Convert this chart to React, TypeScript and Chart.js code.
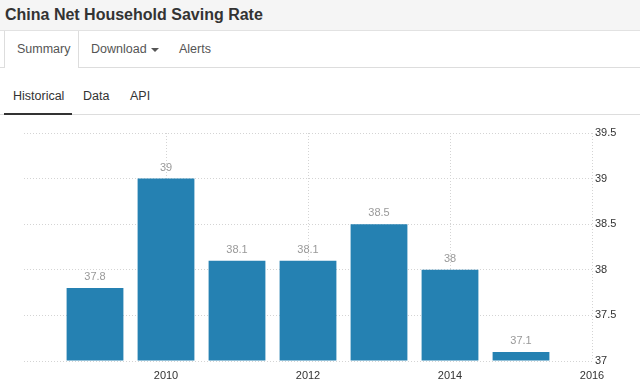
import React, { useEffect, useRef } from "react";
import { Chart, registerables } from "chart.js";

Chart.register(...registerables);

const years = [2009, 2010, 2011, 2012, 2013, 2014, 2015];
const savingRate = [37.8, 39, 38.1, 38.1, 38.5, 38, 37.1];
const yTicks = [37, 37.5, 38, 38.5, 39, 39.5];
const xTicks = [2010, 2012, 2014, 2016];
const xRange = [2008, 2016];

const FONT = "'Liberation Sans', Arial, sans-serif";

const valueLabels = {
  id: "valueLabels",
  afterDatasetsDraw(chart: any) {
    const ctx = chart.ctx;
    const meta = chart.getDatasetMeta(0);
    ctx.save();
    ctx.font = `11px ${FONT}`;
    ctx.fillStyle = "#999999";
    ctx.textAlign = "center";
    ctx.textBaseline = "middle";
    meta.data.forEach((bar: any, i: number) => {
      ctx.fillText(String(savingRate[i]), bar.x, bar.y - 11);
    });
    ctx.restore();
  },
};

function ChartCanvas() {
  const ref = useRef<HTMLCanvasElement | null>(null);
  useEffect(() => {
    if (!ref.current) return;
    const chart = new Chart(ref.current, {
      type: "bar",
      data: {
        datasets: [
          {
            data: years.map((y, i) => ({ x: y, y: savingRate[i] })) as any,
            backgroundColor: "#2581b2",
            borderWidth: 0,
            categoryPercentage: 0.8,
            barPercentage: 1,
            base: yTicks[0],
          } as any,
        ],
      },
      options: {
        responsive: false,
        animation: false,
        devicePixelRatio: 1,
        layout: { padding: { left: 24, top: 15, right: 0, bottom: 0 } },
        plugins: {
          legend: { display: false },
          tooltip: { enabled: false },
        },
        scales: {
          x: {
            type: "linear",
            min: xRange[0],
            max: xRange[1],
            offset: false,
            afterBuildTicks: (s: any) => {
              s.ticks = xTicks.map((v) => ({ value: v }));
            },
            afterFit: (s: any) => {
              s.height = 29;
            },
            grid: { color: "#d4d4d4", drawTicks: false, lineWidth: 1, offset: false },
            border: { display: false, dash: [1, 2] },
            ticks: {
              padding: 8,
              color: "#333333",
              font: { family: FONT, size: 11 },
              callback: (v: any) => String(v),
              maxRotation: 0,
              autoSkip: false,
            },
          } as any,
          y: {
            position: "right",
            min: yTicks[0],
            max: yTicks[yTicks.length - 1],
            afterBuildTicks: (s: any) => {
              s.ticks = yTicks.map((v) => ({ value: v }));
            },
            afterFit: (s: any) => {
              s.width = 48;
            },
            grid: { color: "#d4d4d4", drawTicks: false, lineWidth: 1 },
            border: { display: false, dash: [1, 2] },
            ticks: {
              padding: 3,
              color: "#333333",
              font: { family: FONT, size: 11 },
              callback: (v: any) => String(v),
            },
          } as any,
        },
      },
      plugins: [valueLabels],
    });
    return () => chart.destroy();
  }, []);
  return (
    <canvas
      ref={ref}
      width={640}
      height={272}
      style={{ position: "absolute", left: 0, top: 118, width: 640, height: 272 }}
    />
  );
}

const abs = (s: React.CSSProperties): React.CSSProperties => ({ position: "absolute", ...s });

export default function App() {
  return (
    <div
      style={abs({
        left: 0,
        top: 0,
        width: 640,
        height: 390,
        background: "#ffffff",
        fontFamily: FONT,
        overflow: "hidden",
      })}
    >
      {/* header */}
      <div
        style={abs({
          left: 0,
          top: 0,
          width: 640,
          height: 31,
          background: "#f5f5f5",
          borderBottom: "1px solid #e2e2e2",
          boxSizing: "border-box",
        })}
      />
      <div
        style={abs({
          left: 5,
          top: 0,
          height: 29,
          lineHeight: "29px",
          fontSize: 16,
          fontWeight: "bold",
          color: "#333333",
          whiteSpace: "nowrap",
        })}
      >
        China Net Household Saving Rate
      </div>

      {/* top tabs */}
      <div style={abs({ left: 0, top: 67, width: 640, height: 1, background: "#dddddd" })} />
      <div
        style={abs({
          left: 4,
          top: 31,
          width: 75,
          height: 37,
          boxSizing: "border-box",
          borderLeft: "1px solid #dddddd",
          borderRight: "1px solid #dddddd",
          background: "#ffffff",
        })}
      />
      <div style={abs({ left: 17, top: 37, height: 24, lineHeight: "24px", fontSize: 12.5, color: "#555555" })}>
        Summary
      </div>
      <div style={abs({ left: 91, top: 37, height: 24, lineHeight: "24px", fontSize: 12.5, color: "#555555" })}>
        Download
      </div>
      <div
        style={abs({
          left: 151,
          top: 48,
          width: 0,
          height: 0,
          borderLeft: "4px solid transparent",
          borderRight: "4px solid transparent",
          borderTop: "4px solid #555555",
        })}
      />
      <div style={abs({ left: 179, top: 37, height: 24, lineHeight: "24px", fontSize: 12.5, color: "#555555" })}>
        Alerts
      </div>

      {/* sub tabs */}
      <div style={abs({ left: 13, top: 84, height: 24, lineHeight: "24px", fontSize: 12.5, color: "#333333" })}>
        Historical
      </div>
      <div style={abs({ left: 83, top: 84, height: 24, lineHeight: "24px", fontSize: 12.5, color: "#333333" })}>
        Data
      </div>
      <div style={abs({ left: 130, top: 84, height: 24, lineHeight: "24px", fontSize: 12.5, color: "#333333" })}>
        API
      </div>
      <div style={abs({ left: 0, top: 114, width: 640, height: 1, background: "#dddddd" })} />
      <div style={abs({ left: 4, top: 113, width: 68, height: 2, background: "#333333" })} />

      <ChartCanvas />
    </div>
  );
}
